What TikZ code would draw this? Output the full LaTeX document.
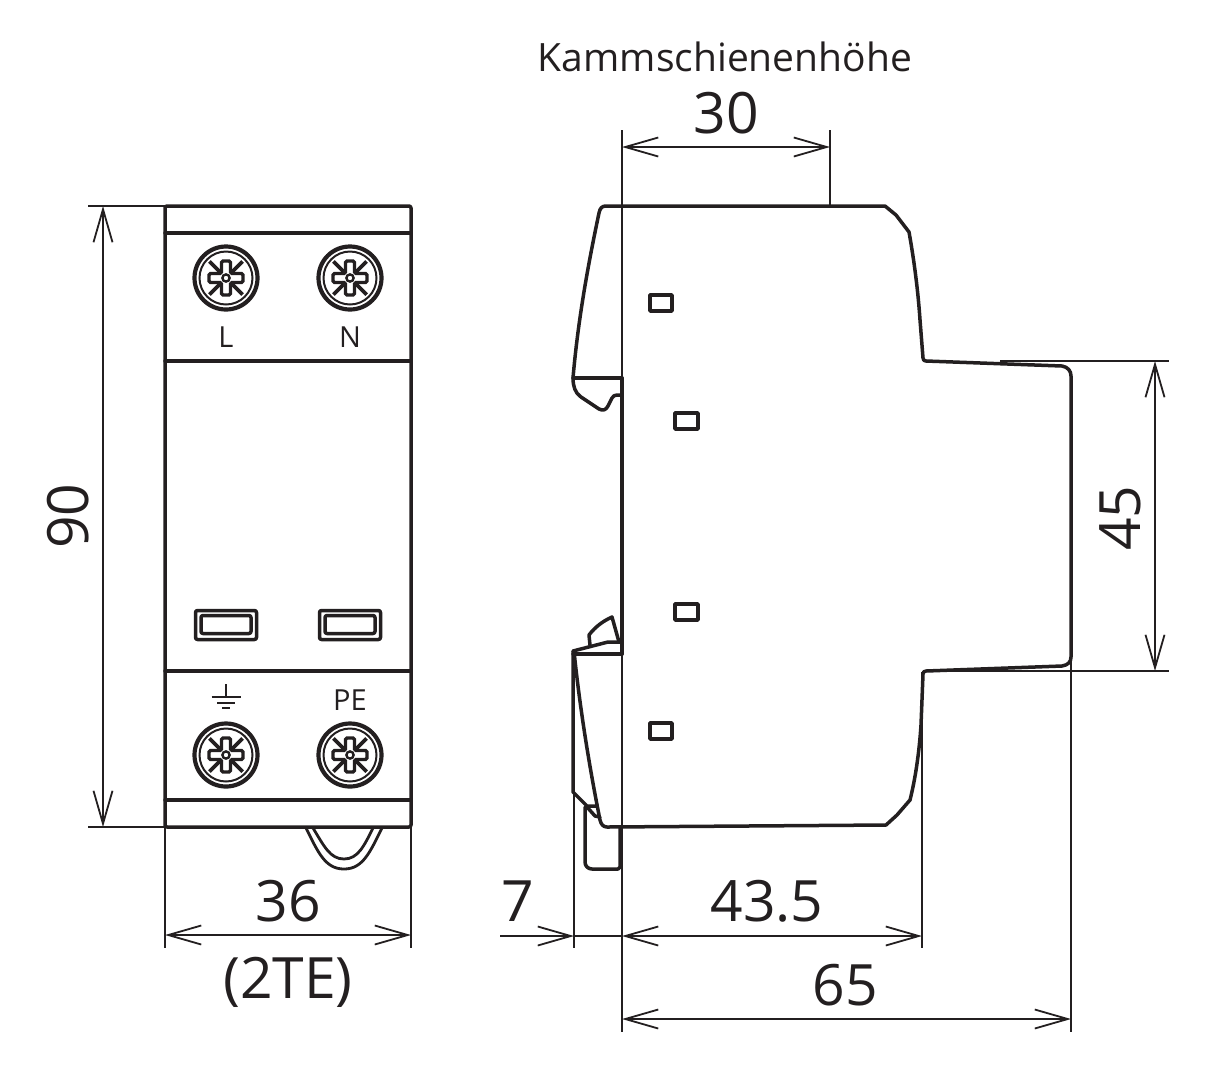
\documentclass[tikz,border=0pt]{standalone}
\usepackage{fontspec}
\setmainfont{Open Sans}
\usetikzlibrary{arrows.meta}
\definecolor{ink}{HTML}{231F20}
\tikzset{
  wall/.style={draw=ink,line width=3.5pt,line join=round,line cap=round},
  fine/.style={draw=ink,line width=1.7pt},
  dim/.style={draw=ink,line width=1.7pt,{Straight Barb[length=33pt,width=19pt,line width=1.8pt]}-{Straight Barb[length=33pt,width=19pt,line width=1.8pt]}},
  dimend/.style={draw=ink,line width=1.7pt,-{Straight Barb[length=33pt,width=19pt,line width=1.8pt]}},
  big/.style={text=ink,inner sep=0pt,font=\fontsize{57}{62}\selectfont},
  small/.style={text=ink,inner sep=0pt,font=\fontsize{29}{32}\selectfont},
  title/.style={text=ink,inner sep=0pt,font=\fontsize{39}{44}\selectfont},
  hole/.style={wall,rounded corners=2pt},
  screw/.pic={
    \draw[ink,line width=4.2pt] (0,0) circle (31.5);
    \draw[ink,line width=2pt] (0,0) circle (26.5);
    \foreach \a in {45,135,225,315}{
      \draw[ink,line width=3.6pt] (\a:6) -- (\a:23.5);
    }
    \draw[ink,line width=3.4pt,fill=white,rounded corners=1.5pt]
      (-4.5,-17) -- (4.5,-17) -- (4.5,-4.5) -- (17,-4.5) -- (17,4.5) -- (4.5,4.5) -- (4.5,17) -- (-4.5,17)
      -- (-4.5,4.5) -- (-17,4.5) -- (-17,-4.5) -- (-4.5,-4.5) -- cycle;
    \draw[ink,line width=2.4pt,fill=white] (0,0) circle (3.6);
  },
}
\begin{document}
\begin{tikzpicture}[x=1pt,y=-1pt]
\useasboundingbox (0,0) rectangle (1214,1072);
% anchor points
\coordinate (ft) at (165,206); \coordinate (fb) at (165,827);
\coordinate (frb) at (411,827);
\coordinate (xt) at (88,206); \coordinate (xb) at (88,827);
\coordinate (a90t) at (103,206); \coordinate (a90b) at (103,827);
\coordinate (e36l) at (165,948); \coordinate (e36r) at (411,948);
\coordinate (a36l) at (165,935); \coordinate (a36r) at (411,935);
\coordinate (refT) at (622,130); \coordinate (refB) at (622,1032);
\coordinate (k30t) at (830,130); \coordinate (k30b) at (830,206);
\coordinate (a30l) at (622,147); \coordinate (a30r) at (830,147);
\coordinate (x7t) at (574,792); \coordinate (x7b) at (574,948);
\coordinate (a7s) at (500,936); \coordinate (a7e) at (574,936);
\coordinate (a7r) at (622,936);
\coordinate (x43t) at (922,672); \coordinate (x43b) at (922,948);
\coordinate (a43r) at (922,936);
\coordinate (x65t) at (1071,657); \coordinate (x65b) at (1071,1032);
\coordinate (a65l) at (622,1019); \coordinate (a65r) at (1071,1019);
\coordinate (x45ts) at (1000,361); \coordinate (x45te) at (1169,361);
\coordinate (x45bs) at (923,671); \coordinate (x45be) at (1169,671);
\coordinate (a45t) at (1155,361); \coordinate (a45b) at (1155,671);

% extension and dimension lines
\draw[fine] (xt) -- (ft); \draw[fine] (xb) -- (fb);
\draw[dim] (a90t) -- (a90b);
\draw[fine] (fb) -- (e36l); \draw[fine] (frb) -- (e36r);
\draw[dim] (a36l) -- (a36r);
\draw[fine] (refT) -- (refB);
\draw[fine] (k30t) -- (k30b);
\draw[dim] (a30l) -- (a30r);
\draw[fine] (x7t) -- (x7b);
\draw[dimend] (a7s) -- (a7e);
\draw[fine] (a7e) -- (a7r);
\draw[dim] (a7r) -- (a43r);
\draw[fine] (x43t) -- (x43b);
\draw[fine] (x65t) -- (x65b);
\draw[dim] (a65l) -- (a65r);
\draw[fine] (x45ts) -- (x45te);
\draw[fine] (x45bs) -- (x45be);
\draw[dim] (a45t) -- (a45b);

% front view
\draw[wall,rounded corners=2pt] (165,206) rectangle (411,827);
\draw[wall] (165,233) -- (411,233);
\draw[wall] (165,361) -- (411,361);
\draw[wall] (165,671) -- (411,671);
\draw[wall] (165,800) -- (411,800);
\pic at (226,278) {screw};
\pic at (350,278) {screw};
\pic at (226,755) {screw};
\pic at (350,755) {screw};
\node[small] (L) at (226,337) {L};
\node[small] (N) at (350,337) {N};
\node[small] (PE) at (350,700) {PE};
\draw[hole] (195.5,610.5) rectangle (256.5,639.5);
\draw[hole] (201,615.5) rectangle (251,633.5);
\draw[hole] (319.5,610.5) rectangle (380.5,639.5);
\draw[hole] (325,615.5) rectangle (375,633.5);
% earth symbol
\draw[ink,line width=1.8pt] (226,684) -- (226,697);
\draw[ink,line width=1.8pt] (211.5,697) -- (240.5,697);
\draw[ink,line width=1.8pt] (217,703) -- (235,703);
\draw[ink,line width=1.8pt] (222,708) -- (230,708);
% clip below the front view
\draw[ink,line width=2.8pt] (306,828) .. controls (318,852) and (325,869) .. (344,869) .. controls (363,869) and (370,852) .. (382,828);
\draw[ink,line width=2.8pt] (313,828) .. controls (324,846) and (330,859) .. (344,859) .. controls (358,859) and (364,846) .. (373,828);

% side view outline
\draw[wall] (622,378) -- (573,378);
\draw[wall] (573,378) .. controls (578,320) and (588,265) .. (599,213)
  .. controls (600,208) and (602,206) .. (606,206)
  -- (885,206) -- (896,215) -- (909,232)
  .. controls (914,260) and (918,290) .. (920,320) -- (923,358)
  .. controls (923,360) and (924,361) .. (926,361)
  -- (1062,366) .. controls (1068,367) and (1071,371) .. (1071,376)
  -- (1071,657) .. controls (1071,662) and (1068,665) .. (1062,666)
  -- (926,671) .. controls (924,671) and (923,672) .. (923,674)
  -- (921,725) .. controls (919,755) and (915,780) .. (910,800)
  -- (897,815) -- (886,825) -- (607,827)
  .. controls (603,827) and (601,824) .. (600,820)
  .. controls (590,770) and (580,710) .. (574,651);
\draw[wall] (573,378) .. controls (573,386) and (575,393) .. (581,397)
  -- (599,409) .. controls (603,411) and (606,410) .. (608,406)
  -- (612,398) .. controls (613,396) and (615,395) .. (617,395) -- (622,395);
\draw[wall] (622,378) -- (622,654);
\draw[wall] (573,651) -- (608,642) -- (622,642);
\draw[wall] (573,654) -- (622,654);
\draw[wall] (573,651) -- (573,792) -- (587,806) -- (596,806);
\draw[wall] (587,807) -- (595,816) -- (600,817);
\draw[wall] (585,807) -- (585,862) .. controls (585,866) and (588,869) .. (592,869) -- (618,869) -- (620,867) -- (620,827);
\draw[wall] (590,645) -- (589,635) .. controls (595,627) and (603,621) .. (612,617) -- (619,642);
\draw[wall] (650,295) rectangle (672,311);
\draw[wall] (675,413) rectangle (698,429);
\draw[wall] (675,604) rectangle (698,620);
\draw[wall] (650,723) rectangle (672,739);

% labels
\node[title] (kh) at (725,57) {Kammschienenhöhe};
\node[big] (t30) at (726,113) {30};
\node[big,rotate=90] (t90) at (68,516) {90};
\node[big] (t36) at (288,901) {36};
\node[big] (t2te) at (288,982) {(2TE)};
\node[big] (t7) at (518,901) {7};
\node[big] (t435) at (767,901) {43.5};
\node[big] (t65) at (845,985) {65};
\node[big,rotate=90] (t45) at (1120,518) {45};
\end{tikzpicture}
\end{document}
